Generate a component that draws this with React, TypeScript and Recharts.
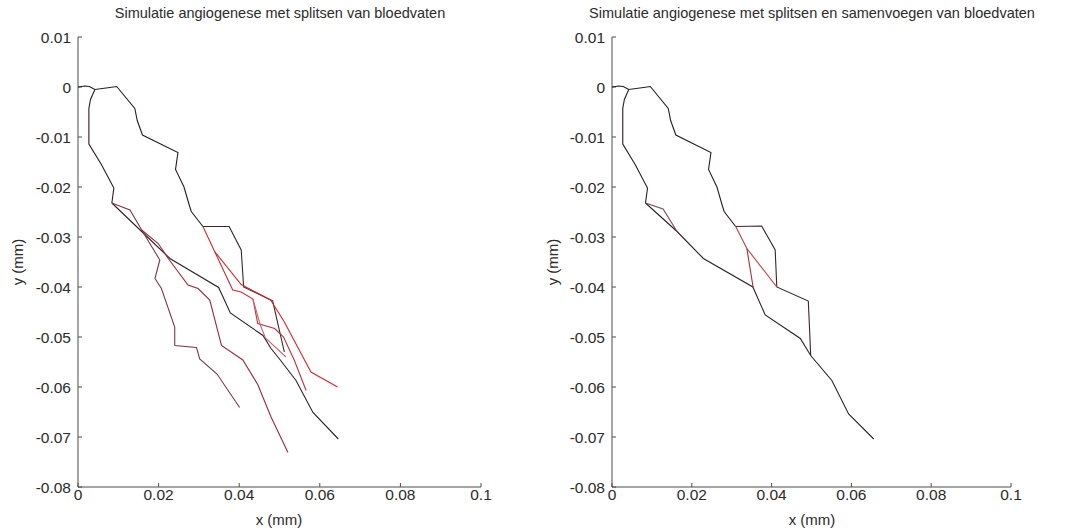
import { ScatterChart, Scatter, XAxis, YAxis } from 'recharts'

type P = [number, number]

const xTicks = [0, 0.02, 0.04, 0.06, 0.08, 0.1]
const yTicks = [0.01, 0, -0.01, -0.02, -0.03, -0.04, -0.05, -0.06, -0.07, -0.08]

// shared upper part of the network (both panels)
const topLoop: P[] = [
  [0, 0], [0.0017, 0.0002], [0.0028, 0.0001], [0.0042, -0.0005], [0.0079, -0.0001],
  [0.0096, 0.0001], [0.0141, -0.0043], [0.0147, -0.0067], [0.016, -0.0096],
  [0.0248, -0.0131], [0.0242, -0.0165], [0.0263, -0.02], [0.0276, -0.0236],
  [0.0281, -0.0249], [0.031, -0.0279],
]
const leftBranch: P[] = [
  [0.0042, -0.0005], [0.0031, -0.0025], [0.0027, -0.0043], [0.0027, -0.0114],
  [0.0058, -0.0155], [0.0089, -0.0202], [0.0084, -0.0232],
]

// left panel: splitting only
const splitRight: P[] = [
  [0.031, -0.0279], [0.0375, -0.0279], [0.0405, -0.0326], [0.0411, -0.04],
  [0.0483, -0.0428], [0.0512, -0.053],
]
const splitLong: P[] = [
  [0.0084, -0.0232], [0.0158, -0.0289], [0.0228, -0.0343], [0.0349, -0.0401],
  [0.0378, -0.0452], [0.0459, -0.0497], [0.0479, -0.0523], [0.05, -0.0544],
  [0.0541, -0.0587], [0.0583, -0.0651], [0.0646, -0.0704],
]
const splitX: P[] = [
  [0.0084, -0.0232], [0.0129, -0.0246], [0.0158, -0.0286], [0.0203, -0.0346],
  [0.0191, -0.0383], [0.0207, -0.0403], [0.024, -0.048], [0.024, -0.0517],
  [0.0294, -0.0521], [0.0302, -0.0544], [0.0345, -0.0574], [0.0401, -0.0641],
]
const splitY: P[] = [
  [0.0158, -0.0286], [0.0199, -0.0313], [0.0224, -0.0343], [0.0273, -0.0396],
  [0.0298, -0.0403], [0.0327, -0.0426], [0.0356, -0.0517], [0.0409, -0.0546],
  [0.0446, -0.0595], [0.0479, -0.066], [0.0521, -0.0731],
]
const splitRed1: P[] = [
  [0.031, -0.0279], [0.0339, -0.0329], [0.0405, -0.0395], [0.0478, -0.0426],
  [0.0512, -0.047], [0.0578, -0.057], [0.0644, -0.06],
]
const splitRed2: P[] = [
  [0.0339, -0.0329], [0.0384, -0.0406], [0.0405, -0.041], [0.0434, -0.0424],
  [0.0446, -0.0473], [0.0488, -0.0483], [0.051, -0.05], [0.0537, -0.0547],
  [0.0566, -0.0607],
]
const splitRed3: P[] = [
  [0.0434, -0.0424], [0.0452, -0.0475], [0.0465, -0.0502], [0.0516, -0.054],
]

// right panel: splitting and merging
const mergeRight: P[] = [
  [0.031, -0.0279], [0.0375, -0.0278], [0.0409, -0.0326], [0.0413, -0.04],
  [0.0492, -0.0428], [0.0498, -0.0537],
]
const mergeLong: P[] = [
  [0.0084, -0.0232], [0.0163, -0.0289], [0.0229, -0.0343], [0.0353, -0.04],
  [0.0384, -0.0456], [0.0472, -0.0503], [0.0498, -0.0537], [0.0551, -0.0587],
  [0.0593, -0.0654], [0.0656, -0.0704],
]
const mergeSide: P[] = [[0.0084, -0.0232], [0.0128, -0.0244], [0.0163, -0.0289]]
const mergeRed1: P[] = [[0.031, -0.0279], [0.0338, -0.0323], [0.0413, -0.04]]
const mergeRed2: P[] = [[0.0338, -0.0323], [0.0354, -0.0402]]

const BLACK = '#2a1d1f'
const FONT = '"Liberation Sans", Arial, sans-serif'
const TEXT = '#2b2b2b'
const AXIS = '#4d4d4d'

interface Path {
  pts: P[]
  color: string
}

const leftPaths: Path[] = [
  { pts: topLoop, color: BLACK },
  { pts: leftBranch, color: BLACK },
  { pts: splitRight, color: '#3a2528' },
  { pts: splitLong, color: '#2e2024' },
  { pts: splitX, color: '#7a3b42' },
  { pts: splitY, color: '#9a2a38' },
  { pts: splitRed1, color: '#d42a2e' },
  { pts: splitRed2, color: '#c0303a' },
  { pts: splitRed3, color: '#c86670' },
]

const rightPaths: Path[] = [
  { pts: topLoop, color: BLACK },
  { pts: leftBranch, color: BLACK },
  { pts: mergeRight, color: '#3a2528' },
  { pts: mergeLong, color: '#2e2024' },
  { pts: mergeSide, color: '#7a4a50' },
  { pts: mergeRed1, color: '#c04048' },
  { pts: mergeRed2, color: '#a0303a' },
]

const tickStyle = { fill: TEXT, fontSize: 15.5, fontFamily: FONT }

function Panel({ left, width, plotLeft, plotRight, paths }: {
  left: number
  width: number
  plotLeft: number
  plotRight: number
  paths: Path[]
}) {
  return (
    <div style={{ position: 'absolute', left, top: 0 }}>
      <ScatterChart
        width={width}
        height={531}
        margin={{ top: 37, right: width - plotRight, bottom: 14, left: plotLeft - 70 }}
      >
        <XAxis
          type="number"
          dataKey="x"
          domain={[0, 0.1]}
          ticks={xTicks}
          height={30}
          stroke={AXIS}
          tickSize={-4}
          tickMargin={6}
          tick={tickStyle}
          allowDataOverflow
        />
        <YAxis
          type="number"
          dataKey="y"
          domain={[-0.08, 0.01]}
          ticks={yTicks}
          width={70}
          stroke={AXIS}
          tickSize={-4}
          tickMargin={11}
          tick={tickStyle}
          allowDataOverflow
        />
        {paths.map((p, i) => (
          <Scatter
            key={i}
            data={p.pts.map(([x, y]) => ({ x, y }))}
            fill={p.color}
            line={{ stroke: p.color, strokeWidth: 1.1 }}
            lineType="joint"
            shape={() => <g />}
            isAnimationActive={false}
          />
        ))}
      </ScatterChart>
    </div>
  )
}

export default function App() {
  return (
    <div style={{ position: 'absolute', left: 0, top: 0, width: 1073, height: 531, background: '#fff' }}>
      <Panel left={0} width={500} plotLeft={78} plotRight={481} paths={leftPaths} />
      <Panel left={536} width={537} plotLeft={76} plotRight={475} paths={rightPaths} />
      <svg
        width={1073}
        height={531}
        style={{ position: 'absolute', left: 0, top: 0, pointerEvents: 'none' }}
        fontFamily={FONT}
        fontSize={14.5}
        fill={TEXT}
      >
        <text x={280} y={18} textAnchor="middle">Simulatie angiogenese met splitsen van bloedvaten</text>
        <text x={812} y={18} textAnchor="middle">Simulatie angiogenese met splitsen en samenvoegen van bloedvaten</text>
        <text x={279} y={525} textAnchor="middle" fontSize={15}>x (mm)</text>
        <text x={812} y={525} textAnchor="middle" fontSize={15}>x (mm)</text>
        <text x={23} y={262} textAnchor="middle" fontSize={15} transform="rotate(-90 23 262)">y (mm)</text>
        <text x={558} y={262} textAnchor="middle" fontSize={15} transform="rotate(-90 558 262)">y (mm)</text>
      </svg>
    </div>
  )
}
